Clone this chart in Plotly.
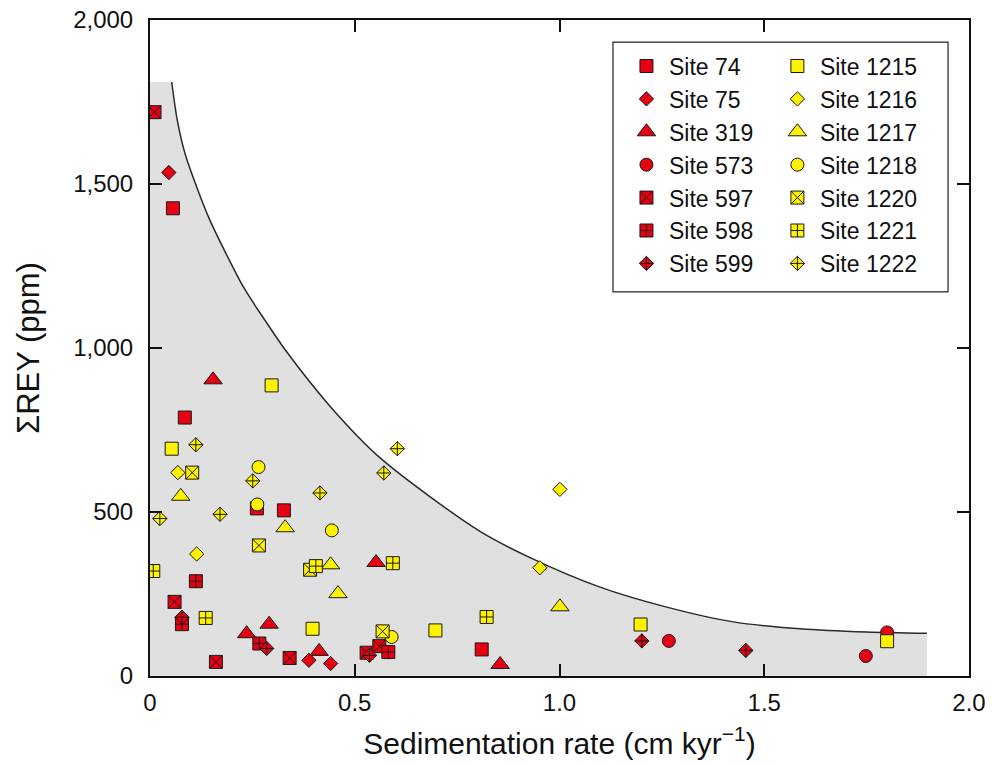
import plotly.graph_objects as go

# ---- data ----
site74_x = [0.056, 0.085, 0.261, 0.327, 0.81]
site74_y = [1426, 788, 511, 505, 81]
site75_x = [0.046, 0.388, 0.441]
site75_y = [1535, 48, 38]
site319_x = [0.154, 0.236, 0.291, 0.413, 0.552, 0.855]
site319_y = [903, 129, 158, 75, 346, 35]
site573_x = [1.267, 1.748, 1.80]
site573_y = [107, 61, 133]
site597_x = [0.011, 0.06, 0.161, 0.341, 0.529, 0.56]
site597_y = [1719, 226, 43, 55, 71, 91]
site598_x = [0.078, 0.112, 0.267, 0.582]
site598_y = [158, 289, 99, 73]
site599_x = [0.078, 0.285, 0.536, 1.201, 1.455]
site599_y = [179, 84, 63, 107, 78]
site1215_x = [0.053, 0.297, 0.397, 0.697, 1.198, 1.80]
site1215_y = [693, 886, 144, 139, 157, 106]
site1216_x = [0.068, 0.114, 0.952, 1.001]
site1216_y = [620, 372, 330, 569]
site1217_x = [0.075, 0.33, 0.441, 0.459, 1.001]
site1217_y = [548, 452, 339, 251, 211]
site1218_x = [0.265, 0.262, 0.444, 0.59]
site1218_y = [637, 523, 444, 119]
site1220_x = [0.103, 0.266, 0.391, 0.568]
site1220_y = [620, 398, 324, 136]
site1221_x = [0.008, 0.136, 0.405, 0.593, 0.822]
site1221_y = [320, 177, 335, 344, 180]
site1222_x = [0.024, 0.112, 0.171, 0.251, 0.415, 0.571, 0.604]
site1222_y = [480, 705, 493, 595, 558, 619, 693]

# upper envelope curve
curve_x = [0.053, 0.0667, 0.0855, 0.114, 0.1465, 0.1856, 0.228, 0.281, 0.331,
           0.44, 0.562, 0.802, 0.928, 1.099, 1.262, 1.424, 1.587, 1.75, 1.897]
curve_y = [1811, 1694, 1593, 1491, 1389, 1288, 1186, 1084, 993,
           822, 665, 444, 361, 271, 210, 165, 144, 134, 130]

x_tickvals = [0, 0.5, 1.0, 1.5, 2.0]
x_ticktext = ["0", "0.5", "1.0", "1.5", "2.0"]
y_tickvals = [0, 500, 1000, 1500, 2000]
y_ticktext = ["0", "500", "1,000", "1,500", "2,000"]

RED = "#e60012"
YEL = "#fff200"
EDGE = "#1a1a1a"
GRAY = "#e0e0e0"
FONT = "Liberation Sans, Arial, sans-serif"

fig = go.Figure()

# gray envelope region: strip left of the curve start + area under the curve
fig.add_shape(type="rect", xref="x", yref="y", x0=0, x1=curve_x[0] + 0.0015,
              y0=0, y1=curve_y[0], fillcolor=GRAY, line=dict(width=0),
              layer="below")
fig.add_trace(go.Scatter(
    x=curve_x, y=curve_y, mode="lines",
    line=dict(color="#2a2a2a", width=1.5, shape="spline", smoothing=0.8),
    fill="tozeroy", fillcolor=GRAY, hoverinfo="skip", showlegend=False))

series = [
    ("Site 74", site74_x, site74_y, "square", RED, "legend"),
    ("Site 75", site75_x, site75_y, "diamond", RED, "legend"),
    ("Site 319", site319_x, site319_y, "triangle-up", RED, "legend"),
    ("Site 573", site573_x, site573_y, "circle", RED, "legend"),
    ("Site 597", site597_x, site597_y, "square-x", RED, "legend"),
    ("Site 598", site598_x, site598_y, "square-cross", RED, "legend"),
    ("Site 599", site599_x, site599_y, "diamond-cross", RED, "legend"),
    ("Site 1215", site1215_x, site1215_y, "square", YEL, "legend2"),
    ("Site 1216", site1216_x, site1216_y, "diamond", YEL, "legend2"),
    ("Site 1217", site1217_x, site1217_y, "triangle-up", YEL, "legend2"),
    ("Site 1218", site1218_x, site1218_y, "circle", YEL, "legend2"),
    ("Site 1220", site1220_x, site1220_y, "square-x", YEL, "legend2"),
    ("Site 1221", site1221_x, site1221_y, "square-cross", YEL, "legend2"),
    ("Site 1222", site1222_x, site1222_y, "diamond-cross", YEL, "legend2"),
]

SIZES = {"diamond": 11, "diamond-cross": 11, "triangle-up": 16}

for name, xs, ys, sym, col, lg in series:
    fig.add_trace(go.Scatter(
        x=xs, y=ys, mode="markers", name=name, legend=lg,
        marker=dict(symbol=sym, size=SIZES.get(sym, 13), color=col,
                    line=dict(color=EDGE, width=1))))

leg_common = dict(
    font=dict(family=FONT, size=23, color="#111"),
    bgcolor="rgba(0,0,0,0)", borderwidth=0,
    tracegroupgap=0, itemwidth=35,
    yanchor="top", xanchor="left", itemsizing="trace")

# legend border box
fig.add_shape(type="rect", xref="paper", yref="paper",
              x0=0.5653, x1=0.9744, y0=0.5856, y1=0.9664,
              line=dict(color="#222", width=1.2), fillcolor="white", layer="above")

fig.update_layout(
    width=992, height=766,
    margin=dict(l=150, r=23, t=20, b=90),
    paper_bgcolor="white", plot_bgcolor="white",
    font=dict(family=FONT, size=24, color="#111"),
    legend=dict(x=0.5787, y=0.9626, **leg_common),
    legend2=dict(x=0.763, y=0.9626, **leg_common),
    xaxis=dict(range=[0, 2.0], tickvals=x_tickvals, ticktext=x_ticktext,
               ticks="inside", ticklen=12, tickwidth=2, tickcolor="#111",
               showline=True, linecolor="#111", linewidth=2, mirror="ticks",
               showgrid=False, zeroline=False, ticklabelstandoff=4,
               automargin=False, tickfont=dict(size=24),
               title=dict(text="Sedimentation rate (cm kyr<sup>\u22121</sup>)",
                          font=dict(size=30), standoff=18)),
    yaxis=dict(range=[0, 2000], tickvals=y_tickvals, ticktext=y_ticktext,
               ticks="inside", ticklen=12, tickwidth=2, tickcolor="#111",
               showline=True, linecolor="#111", linewidth=2, mirror="ticks",
               showgrid=False, zeroline=False, ticklabelstandoff=10,
               automargin=False, tickfont=dict(size=24),
               title=dict(text="\u03a3REY (ppm)", font=dict(size=31), standoff=24)),
)

fig.write_html("out.html")
